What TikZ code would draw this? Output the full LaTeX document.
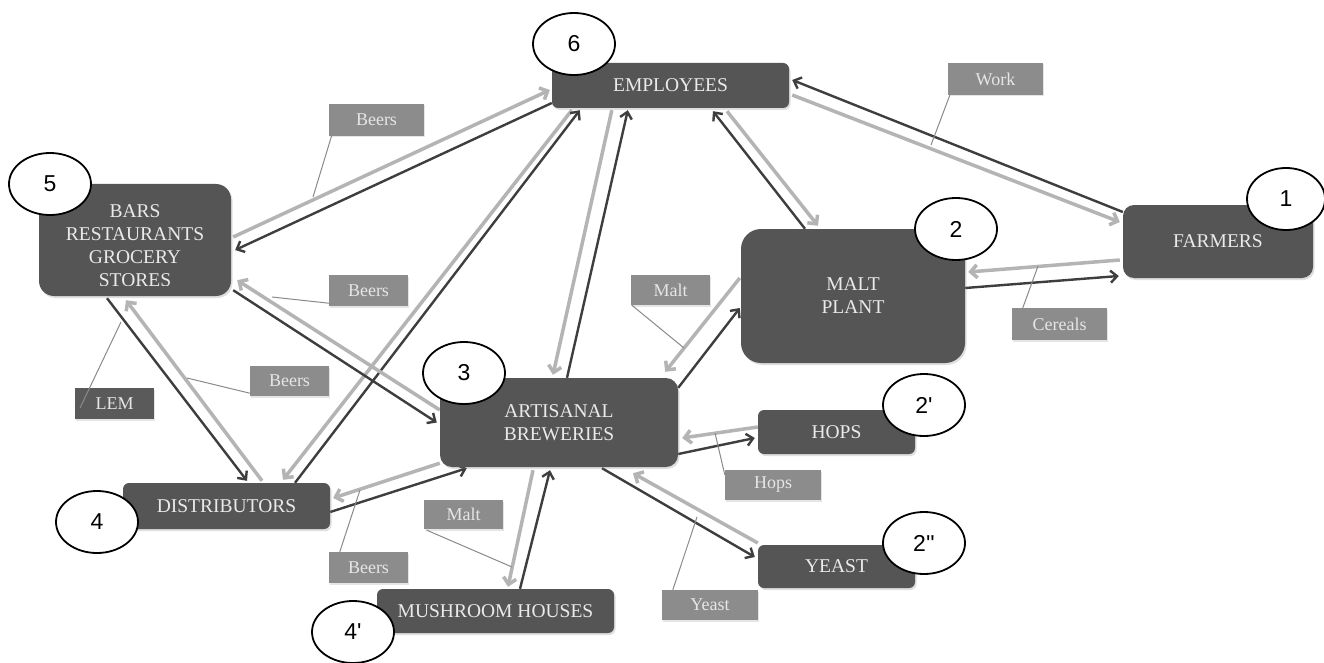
\documentclass[tikz,border=0pt]{standalone}
\usepackage{fontspec}
\setmainfont{Liberation Serif}
\newfontfamily\numfont{Liberation Sans}
\usetikzlibrary{arrows.meta,shapes.geometric,calc,shadows}
\definecolor{boxc}{HTML}{555555}
\definecolor{boxtxt}{HTML}{EAEAEA}
\definecolor{labc}{HTML}{8C8C8C}
\definecolor{labtxt}{HTML}{E6E6E6}
\definecolor{lemc}{HTML}{5A5A5A}
\definecolor{lightarr}{HTML}{B4B4B4}
\definecolor{darkarr}{HTML}{3E3E3E}
\definecolor{leadc}{HTML}{8A8A8A}
\pgfdeclarelayer{bg}
\pgfsetlayers{bg,main}
\begin{document}
\begin{tikzpicture}[x=1pt,y=-1pt,
  box/.style={fill=boxc, rounded corners=#1, inner sep=0pt, text=boxtxt,
    font=\fontsize{19.5}{23}\selectfont, align=center,
    drop shadow={shadow xshift=1.5pt,shadow yshift=-2pt,opacity=0.25}},
  box/.default=6pt,
  lab/.style={fill=labc, inner sep=0pt, text=labtxt, font=\fontsize{18}{20}\selectfont,
    drop shadow={shadow xshift=1pt,shadow yshift=-1.5pt,opacity=0.2}},
  num/.style={ellipse, draw=black, line width=1.8pt, fill=white, inner sep=0pt,
    minimum width=82pt, minimum height=62pt, font=\numfont\fontsize{23}{26}\selectfont},
  la/.style={draw=lightarr, line width=3.5pt, -{Straight Barb[length=6.5pt,width=13pt]}},
  da/.style={draw=darkarr, line width=2.4pt, -{Straight Barb[length=6.5pt,width=12pt]}},
  lead/.style={draw=leadc, line width=1pt}]
\useasboundingbox (0,0) rectangle (1324,663);
\begin{pgfonlayer}{bg}
\fill[white] (0,0) rectangle (1324,663);
\end{pgfonlayer}

% main boxes
\node[box, minimum width=237pt, minimum height=45pt] (emp) at (670.5,85.5) {EMPLOYEES};
\node[box=15pt, minimum width=192pt, minimum height=112pt] (bars) at (135,240) {};
\begin{scope}
  \clip (0,0) rectangle (1324,285);
  \node[text=boxtxt, font=\fontsize{19.5}{23}\selectfont, align=center, inner sep=0pt] (barstxt) at (135,246) {BARS\\RESTAURANTS\\GROCERY\\STORES};
\end{scope}
\node[box=11pt, minimum width=190pt, minimum height=73pt] (farm) at (1218,241.5) {FARMERS};
\node[box=20pt, minimum width=224pt, minimum height=134pt] (malt) at (853,296) {MALT\\PLANT};
\node[box=12pt, minimum width=238pt, minimum height=89pt] (brew) at (559,422.5) {ARTISANAL\\BREWERIES};
\node[box, minimum width=157pt, minimum height=44pt] (hops) at (836.5,432) {HOPS};
\node[box, minimum width=157pt, minimum height=43pt] (yeast) at (836.5,566.5) {YEAST};
\node[box, minimum width=207pt, minimum height=46pt] (dist) at (226.5,506) {DISTRIBUTORS};
\node[box, minimum width=237pt, minimum height=44pt] (mush) at (495.5,611) {MUSHROOM HOUSES};

% flows
\begin{pgfonlayer}{bg}
\draw[la] ($(bars.east)+(2,-3)$) -- ($(emp.west)+(-2,4.5)$);
\draw[da] ($(emp.west)+(0,17.5)$) -- ($(bars.east)+(4,10)$);
\draw[la] ($(emp.south west)+(20,2)$) -- ($(dist.north)+(56.5,-3)$);
\draw[da] ($(dist.north)+(68.5,0)$) -- ($(emp.south west)+(28,2)$);
\draw[la] ($(emp.south west)+(60,2)$) -- ($(brew.north)+(-6,-3)$);
\draw[da] ($(brew.north)+(8,0)$) -- ($(emp.south west)+(76,2)$);
\draw[da] ($(malt.north)+(-48,0)$) -- ($(emp.south)+(42.5,3)$);
\draw[la] ($(emp.south)+(56.5,3)$) -- ($(malt.north)+(-35,-3)$);
\draw[da] ($(farm.west)+(0,-29.5)$) -- ($(emp.east)+(3,-5.5)$);
\draw[la] ($(emp.east)+(3,9.5)$) -- ($(farm.west)+(-3,-19.5)$);
\draw[la] ($(farm.west)+(-3,18.5)$) -- ($(malt.east)+(3,-24)$);
\draw[da] ($(malt.east)+(0,-8)$) -- ($(farm.west)+(-4,34.5)$);
\draw[la] ($(brew.west)+(0,-12.5)$) -- ($(bars.south east)+(6,-16)$);
\draw[da] ($(bars.south east)+(2,-6)$) -- ($(brew.west)+(-3,0)$);
\draw[da] ($(bars.south)+(-28,2)$) -- ($(dist.north)+(20.5,-2)$);
\draw[la] ($(dist.north)+(35.5,-2)$) -- ($(bars.south)+(-9,4)$);
\draw[la] ($(brew.south west)+(0,-4)$) -- ($(dist.east)+(3,-8)$);
\draw[da] ($(dist.east)+(0,6)$) -- ($(brew.south west)+(27,1)$);
\draw[la] ($(brew.south)+(-26,3)$) -- ($(mush.north)+(12.5,-2)$);
\draw[da] ($(mush.north)+(24.5,0)$) -- ($(brew.south)+(-9,3)$);
\draw[la] ($(malt.west)+(-1,-18)$) -- ($(brew.north east)+(-13,-6)$);
\draw[da] ($(brew.north east)+(0,10)$) -- ($(malt.west)+(-1,12)$);
\draw[la] ($(hops.west)+(0,-5)$) -- ($(brew.east)+(4,15.5)$);
\draw[da] ($(brew.east)+(0,31.5)$) -- ($(hops.west)+(-3,6)$);
\draw[da] ($(brew.south)+(43,1)$) -- ($(yeast.west)+(-3,-9.5)$);
\draw[la] ($(yeast.west)+(0,-23.5)$) -- ($(brew.south)+(74,6)$);
\end{pgfonlayer}

% labels
\node[lab, minimum width=95pt, minimum height=32pt] (beers1) at (376.5,120) {Beers};
\node[lab, minimum width=79pt, minimum height=31pt] (beers2) at (368.5,290.5) {Beers};
\node[lab, minimum width=79pt, minimum height=30pt] (beers3) at (289.5,381) {Beers};
\node[lab, fill=lemc, minimum width=79pt, minimum height=31pt] (lem) at (114.5,403.5) {LEM};
\node[lab, minimum width=79pt, minimum height=30pt] (malt1) at (670.5,290) {Malt};
\node[lab, minimum width=95pt, minimum height=32pt] (cereals) at (1059.5,324) {Cereals};
\node[lab, minimum width=95pt, minimum height=32pt] (work) at (995.5,79) {Work};
\node[lab, minimum width=96pt, minimum height=30pt] (hopsl) at (773,485) {Hops};
\node[lab, minimum width=96pt, minimum height=30pt] (yeastl) at (710,605) {Yeast};
\node[lab, minimum width=79pt, minimum height=29pt] (malt2) at (463.5,514.5) {Malt};
\node[lab, minimum width=79pt, minimum height=31pt] (beers4) at (368.5,567.5) {Beers};

% leader ends
\coordinate (p1) at (313,197);
\coordinate (p2) at (272,297);
\coordinate (p3) at (187,378);
\coordinate (p4) at (121,322);
\coordinate (p5) at (684,348);
\coordinate (p6) at (1038,266);
\coordinate (p7) at (931,145);
\coordinate (p8) at (715,433);
\coordinate (p9) at (697,517);
\coordinate (p10) at (512,567);
\coordinate (p11) at (360,490);
\begin{pgfonlayer}{bg}
\draw[lead] ($(beers1.south west)+(3,-1)$) -- (p1);
\draw[lead] ($(beers2.south west)+(0,-3)$) -- (p2);
\draw[lead] ($(beers3.south west)+(0,-3)$) -- (p3);
\draw[lead] ($(malt1.south west)+(1,0)$) -- (p5);
\draw[lead] ($(cereals.north west)+(11,0)$) -- (p6);
\draw[lead] ($(work.south west)+(2,0)$) -- (p7);
\draw[lead] ($(hopsl.north west)+(0,5)$) -- (p8);
\draw[lead] ($(yeastl.north west)+(11,0)$) -- (p9);
\draw[lead] ($(malt2.south west)+(3,1)$) -- (p10);
\draw[lead] ($(beers4.north west)+(11,0)$) -- (p11);
\end{pgfonlayer}
\draw[lead] ($(lem.center)+(-34.5,4.5)$) -- (p4);

% number ellipses
\node[num] (n6) at (574,44) {6};
\node[num] (n5) at (50,184) {5};
\node[num, minimum width=78pt] (n1) at (1286,199) {1};
\node[num] (n2) at (956,229) {2};
\node[num] (n3) at (464,373) {3};
\node[num] (n2p) at (924,405) {2'};
\node[num] (n2pp) at (924,543) {2''};
\node[num] (n4) at (97,522) {4};
\node[num] (n4p) at (353,632) {4'};
\end{tikzpicture}
\end{document}
